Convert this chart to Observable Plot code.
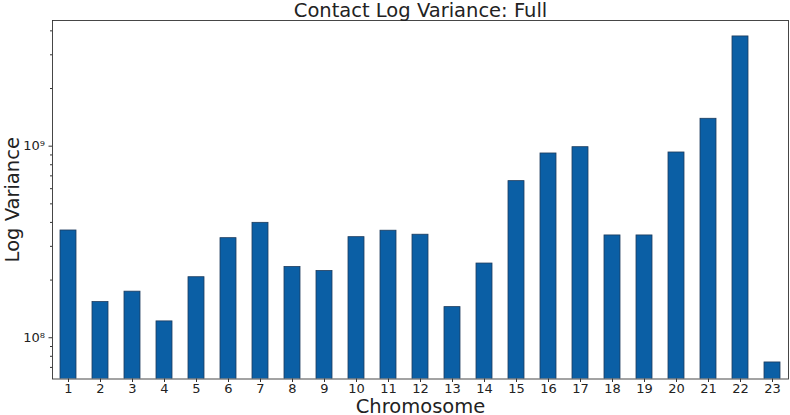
<!DOCTYPE html>
<html>
<head>
<meta charset="utf-8">
<script src="https://cdn.jsdelivr.net/npm/d3@7"></script>
<script src="https://cdn.jsdelivr.net/npm/@observablehq/plot@0.6"></script>
<style>
  html, body { margin: 0; padding: 0; background: white; }
</style>
</head>
<body>
<div id="chart"></div>
<script>
const chromosomes = ["1","2","3","4","5","6","7","8","9","10","11","12","13","14","15","16","17","18","19","20","21","22","23"];
const variances = [3.63e8, 1.535e8, 1.74e8, 1.217e8, 2.07e8, 3.31e8, 3.98e8, 2.34e8, 2.23e8, 3.35e8, 3.62e8, 3.45e8, 1.445e8, 2.44e8, 6.57e8, 9.16e8, 9.88e8, 3.42e8, 3.42e8, 9.27e8, 1.39e9, 3.74e9, 7.43e7];
const majorTicks = [1e8, 1e9];
const majorTickLabels = ["10\u2078", "10\u2079"];
const minorTicks = [7e7, 8e7, 9e7, 2e8, 3e8, 4e8, 5e8, 6e8, 7e8, 8e8, 9e8, 2e9, 3e9, 4e9];
const titleText = "Contact Log Variance: Full";
const xLabel = "Chromosome";
const yLabel = "Log Variance";

const data = chromosomes.map((c, i) => ({chrom: c, v: variances[i]}));

const chart = Plot.plot({
  width: 790,
  height: 415,
  marginLeft: 52,
  marginRight: 2,
  marginTop: 20,
  marginBottom: 36.5,
  style: {fontFamily: "DejaVu Sans", fontSize: "13px", color: "#222", background: "white"},
  x: {domain: chromosomes, paddingInner: 0.5, paddingOuter: 0.25},
  y: {type: "log", domain: [6.09e7, 4.53e9]},
  marks: [
    Plot.barY(data, {x: "chrom", y1: 1e7, y2: "v", fill: "#0b5fa5", stroke: "#1d3b5c", strokeWidth: 0.8, clip: true}),
    Plot.frame({stroke: "#333", strokeWidth: 0.9}),
    Plot.axisX({tickSize: 3.5, tickPadding: 1.5, fontSize: 13, label: null, stroke: "#333"}),
    Plot.axisY({ticks: majorTicks, tickSize: 3.5, tickPadding: 4, fontSize: 13, label: null,
      tickFormat: (d) => majorTickLabels[majorTicks.indexOf(d)], stroke: "#333"}),
    Plot.axisY({ticks: minorTicks, tickSize: 2, tickFormat: () => "", label: null, stroke: "#333"}),
    Plot.text([titleText], {frameAnchor: "top", dy: -3.5, lineAnchor: "bottom", fontSize: 19.5, fill: "#222"}),
    Plot.text([xLabel], {frameAnchor: "bottom", dy: 33.5, lineAnchor: "bottom", fontSize: 19.5, fill: "#222"}),
    Plot.text([yLabel], {frameAnchor: "left", dx: -40, rotate: -90, textAnchor: "middle", lineAnchor: "middle", fontSize: 19.5, fill: "#222"})
  ]
});
document.getElementById("chart").appendChild(chart);
</script>
</body>
</html>
